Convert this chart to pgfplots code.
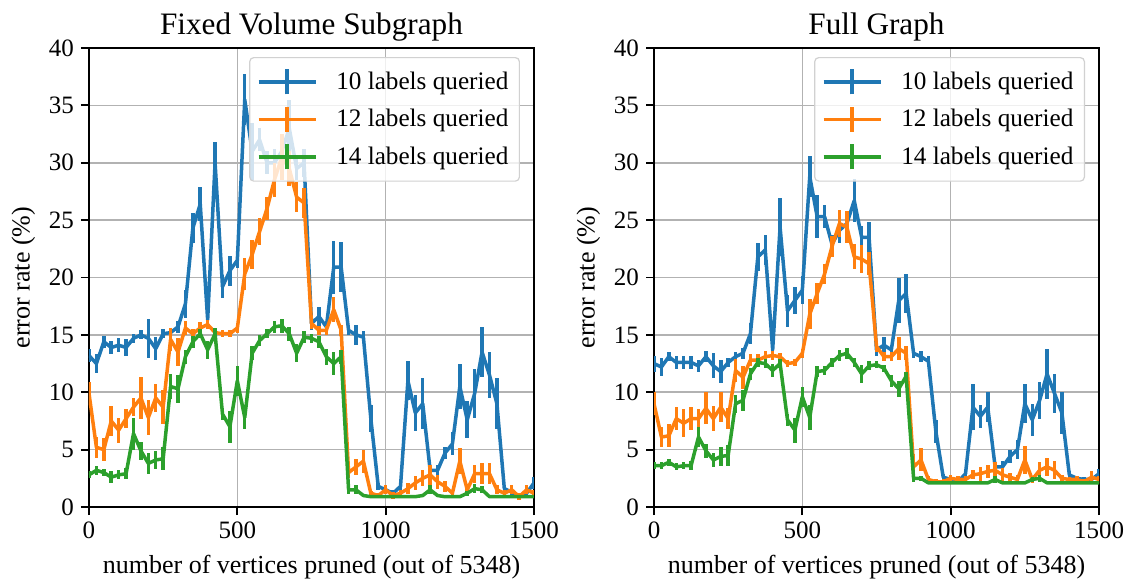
\documentclass[border=0pt]{standalone}
\usepackage{fontspec}
\setmainfont{Liberation Serif}
\usepackage{pgfplots}
\usepackage{pgfplotstable}
\pgfplotsset{compat=1.18}
\definecolor{tabblue}{HTML}{1F77B4}
\definecolor{taborange}{HTML}{FF7F0E}
\definecolor{tabgreen}{HTML}{2CA02C}

\pgfplotstableread{
x y e
0 13.2 0.6
25 12.5 0.8
50 14.4 0.5
75 13.9 0.6
100 14.1 0.6
125 13.9 0.7
150 14.7 0.4
175 15.0 0.4
200 14.7 1.7
225 13.8 1.0
250 15.1 0.4
275 15.2 0.4
300 15.7 0.5
325 17.7 1.2
350 24.3 1.3
375 26.4 1.5
400 16.3 0.5
425 30.0 1.8
450 19.2 1.0
475 20.6 1.3
500 21.5 0.7
525 35.5 2.2
550 31.0 2.5
575 32.0 1.0
600 30.0 1.0
625 30.0 1.2
650 31.0 1.5
675 33.0 2.5
700 29.5 1.0
725 30.0 1.2
750 16.0 0.6
775 16.6 0.8
800 15.7 0.5
825 20.9 2.3
850 20.9 2.2
875 15.4 0.4
900 15.0 0.9
925 14.8 0.5
950 7.7 1.2
975 1.8 0.3
1000 1.5 0.3
1025 1.2 0.3
1050 1.8 0.3
1075 11.0 1.7
1100 8.2 1.6
1125 9.0 2.2
1150 3.2 0.3
1175 3.2 0.5
1200 4.7 0.5
1225 5.5 1.0
1250 10.5 2.0
1275 7.6 1.6
1300 9.9 2.1
1325 13.5 2.2
1350 11.5 2.0
1375 9.0 2.2
1400 1.6 0.3
1425 1.3 0.3
1450 0.9 0.3
1475 1.2 0.3
1500 2.1 0.5
}\LB

\pgfplotstableread{
x y e
0 9.9 1.0
25 5.2 0.9
50 5.0 1.0
75 7.5 1.3
100 6.7 1.1
125 7.7 0.8
150 8.7 0.8
175 9.5 1.8
200 7.8 1.5
225 9.5 1.2
250 8.7 1.5
275 14.6 1.0
300 13.5 1.2
325 15.6 0.6
350 15.1 0.4
375 15.6 0.5
400 15.9 0.4
425 15.2 0.4
450 15.1 0.3
475 15.1 0.3
500 15.6 0.4
525 20.3 1.4
550 22.0 1.3
575 24.0 1.2
600 26.0 1.0
625 28.5 1.5
650 30.5 2.0
675 29.5 1.5
700 27.0 1.3
725 26.5 1.3
750 16.0 0.5
775 15.4 0.4
800 15.4 0.4
825 17.2 1.1
850 15.4 0.5
875 3.0 0.5
900 3.5 0.7
925 4.0 1.0
950 1.2 0.2
975 1.0 0.2
1000 1.5 0.4
1025 1.0 0.3
1050 1.2 0.3
1075 1.6 0.5
1100 2.1 0.6
1125 2.5 0.7
1150 2.8 0.9
1175 2.2 0.6
1200 1.8 0.5
1225 1.2 0.3
1250 4.0 1.1
1275 1.5 0.4
1300 2.9 0.8
1325 2.9 0.9
1350 2.9 0.9
1375 1.5 0.4
1400 1.2 0.3
1425 1.5 0.4
1450 0.9 0.3
1475 1.5 0.4
1500 1.2 0.3
}\LO

\pgfplotstableread{
x y e
0 2.8 0.3
25 3.2 0.4
50 3.0 0.3
75 2.6 0.5
100 2.8 0.4
125 2.9 0.5
150 6.4 1.4
175 4.9 0.8
200 3.8 0.9
225 4.1 0.8
250 4.2 1.0
275 10.5 1.1
300 10.3 1.2
325 13.1 0.6
350 14.4 0.5
375 15.1 0.4
400 13.7 0.8
425 15.1 0.5
450 8.1 0.5
475 7.0 1.4
500 11.0 1.3
525 7.8 1.0
550 13.4 0.6
575 14.5 0.5
600 15.1 0.4
625 15.7 0.5
650 15.8 0.6
675 15.1 0.6
700 13.4 0.8
725 14.8 0.5
750 14.7 0.4
775 14.4 0.5
800 13.1 0.7
825 12.5 1.0
850 13.1 0.6
875 1.5 0.4
900 1.5 0.4
925 1.0 0.1
950 0.9 0.1
975 0.9 0.1
1000 0.9 0.1
1025 0.9 0.1
1050 0.9 0.1
1075 0.9 0.1
1100 0.9 0.1
1125 1.0 0.1
1150 1.5 0.4
1175 1.0 0.1
1200 0.9 0.1
1225 0.9 0.1
1250 0.9 0.1
1275 1.2 0.2
1300 1.6 0.4
1325 1.5 0.3
1350 0.9 0.1
1375 0.9 0.1
1400 0.9 0.1
1425 0.9 0.1
1450 0.9 0.1
1475 0.9 0.1
1500 0.9 0.1
}\LG

\pgfplotstableread{
x y e
0 12.5 0.7
25 12.2 0.8
50 13.1 0.4
75 12.6 0.6
100 12.6 0.6
125 12.6 0.6
150 12.3 0.5
175 13.1 0.5
200 12.3 1.1
225 11.8 1.0
250 12.6 0.4
275 13.1 0.4
300 13.4 0.5
325 15.1 0.9
350 21.8 1.2
375 22.4 1.3
400 13.7 0.5
425 24.4 2.5
450 17.1 1.4
475 18.0 1.2
500 18.9 1.2
525 28.8 1.8
550 25.3 1.9
575 25.3 1.0
600 22.9 0.8
625 24.1 1.1
650 24.7 1.0
675 26.7 1.9
700 23.5 1.0
725 23.5 1.3
750 13.7 0.5
775 14.1 0.7
800 13.7 0.4
825 18.0 2.0
850 18.6 1.7
875 13.4 0.4
900 13.1 0.5
925 12.7 0.5
950 6.6 1.0
975 2.6 0.3
1000 2.4 0.3
1025 2.2 0.2
1050 2.9 0.3
1075 8.7 2.0
1100 7.9 1.0
1125 8.7 1.3
1150 3.5 0.4
1175 3.5 0.5
1200 4.4 0.6
1225 5.0 0.8
1250 9.0 1.7
1275 7.6 1.4
1300 9.3 1.6
1325 11.6 2.2
1350 9.9 1.7
1375 8.2 1.8
1400 2.8 0.3
1425 2.5 0.2
1450 2.4 0.2
1475 2.4 0.2
1500 2.9 0.4
}\RB

\pgfplotstableread{
x y e
0 9.0 1.0
25 6.1 0.9
50 6.2 1.0
75 7.7 1.0
100 7.3 1.2
125 7.7 1.0
150 7.7 0.8
175 8.6 1.4
200 7.7 1.1
225 8.7 1.3
250 7.7 0.9
275 11.9 1.0
300 11.3 1.0
325 12.8 0.5
350 12.8 0.5
375 13.1 0.5
400 13.2 0.4
425 13.1 0.3
450 12.5 0.3
475 12.6 0.3
500 13.4 0.4
525 16.8 1.3
550 18.6 0.9
575 20.3 0.9
600 22.7 0.9
625 24.7 1.2
650 24.4 1.4
675 21.8 1.1
700 21.6 1.2
725 21.2 1.0
750 14.0 0.5
775 13.1 0.4
800 13.1 0.4
825 13.8 1.0
850 13.4 0.6
875 3.5 1.1
900 4.1 1.0
925 2.4 0.3
950 2.2 0.2
975 2.2 0.2
1000 2.5 0.3
1025 2.4 0.3
1050 2.4 0.3
1075 2.8 0.4
1100 2.9 0.6
1125 3.1 0.6
1150 3.2 0.7
1175 2.8 0.6
1200 2.6 0.4
1225 2.4 0.4
1250 4.1 1.2
1275 2.4 0.3
1300 3.2 0.7
1325 3.5 0.8
1350 3.2 0.8
1375 2.5 0.3
1400 2.4 0.2
1425 2.4 0.3
1450 2.2 0.2
1475 2.6 0.5
1500 2.4 0.3
}\RO

\pgfplotstableread{
x y e
0 3.6 0.3
25 3.6 0.3
50 3.9 0.3
75 3.5 0.3
100 3.6 0.3
125 3.6 0.4
150 6.1 0.9
175 4.9 0.6
200 4.1 0.6
225 4.4 0.8
250 4.5 0.9
275 9.0 0.8
300 9.3 0.9
325 11.6 0.5
350 12.6 0.4
375 12.5 0.4
400 11.9 0.6
425 12.5 0.4
450 7.6 0.5
475 6.7 1.1
500 9.6 0.9
525 7.8 1.1
550 11.8 0.5
575 11.9 0.4
600 12.6 0.4
625 13.2 0.5
650 13.4 0.5
675 12.6 0.4
700 11.6 0.8
725 12.3 0.4
750 12.4 0.3
775 12.1 0.3
800 11.0 0.5
825 10.3 0.7
850 11.4 0.4
875 2.5 0.3
900 2.5 0.2
925 2.1 0.1
950 2.1 0.1
975 2.1 0.1
1000 2.1 0.1
1025 2.1 0.1
1050 2.1 0.1
1075 2.1 0.1
1100 2.1 0.1
1125 2.1 0.1
1150 2.4 0.3
1175 2.1 0.1
1200 2.1 0.1
1225 2.1 0.1
1250 2.1 0.1
1275 2.4 0.2
1300 2.5 0.3
1325 2.1 0.1
1350 2.1 0.1
1375 2.1 0.1
1400 2.1 0.1
1425 2.1 0.1
1450 2.1 0.1
1475 2.1 0.1
1500 2.1 0.1
}\RG

\pgfplotsset{
  myaxis/.style={
    scale only axis, width=222.5pt, height=229.5pt,
    xmin=0, xmax=1500, ymin=0, ymax=40,
    xtick={0,500,1000,1500}, ytick={0,5,10,15,20,25,30,35,40},
    xticklabels={0,500,1000,1500},
    yticklabels={0,5,10,15,20,25,30,35,40},
    grid=major, grid style={line width=0.8pt, color=black!30},
    axis line style={line width=0.9pt},
    tick align=outside, tick pos=left, major tick length=4pt,
    tick style={line width=0.9pt, black},
    tick label style={font=\fontsize{12.5}{15}\selectfont},
    label style={font=\fontsize{13}{15}\selectfont},
    xlabel style={yshift=-1.5pt},
    title style={font=\fontsize{15.6}{18}\selectfont, yshift=-6pt},
    xlabel={number of vertices pruned (out of 5348)},
    ylabel={error rate (\%)},
    legend cell align=left,
    legend style={at={(rel axis cs:1,1)}, anchor=north east, xshift=-7pt, yshift=-4.5pt,
      draw=black!18, line width=0.6pt, rounded corners=2pt, fill=white, fill opacity=0.8, text opacity=1,
      font=\fontsize{12.6}{14}\selectfont, row sep=4.5pt, inner xsep=3.5pt, inner ysep=5pt,
      /tikz/every odd column/.append style={column sep=7.5pt}},
    legend image code/.code={
      \draw[##1, line width=1.75pt] (0pt,0pt) -- (28.5pt,0pt);
      \draw[##1, line width=1.75pt] (14.25pt,-6.25pt) -- (14.25pt,6.25pt);
    },
  },
  eb/.style={line width=1.75pt, mark=none, line join=round,
    error bars/y dir=both, error bars/y explicit, error bars/error mark=none,
    error bars/error bar style={line width=1.75pt, solid}},
}

\begin{document}
\begin{tikzpicture}
\begin{axis}[myaxis, title={Fixed Volume Subgraph}]
\addplot[color=tabblue, eb] table[x=x, y=y, y error=e] {\LB};
\addlegendentry{10 labels queried}
\addplot[color=taborange, eb] table[x=x, y=y, y error=e] {\LO};
\addlegendentry{12 labels queried}
\addplot[color=tabgreen, eb] table[x=x, y=y, y error=e] {\LG};
\addlegendentry{14 labels queried}
\end{axis}
\begin{axis}[myaxis, at={(282.5pt,0pt)}, title={Full Graph}]
\addplot[color=tabblue, eb] table[x=x, y=y, y error=e] {\RB};
\addlegendentry{10 labels queried}
\addplot[color=taborange, eb] table[x=x, y=y, y error=e] {\RO};
\addlegendentry{12 labels queried}
\addplot[color=tabgreen, eb] table[x=x, y=y, y error=e] {\RG};
\addlegendentry{14 labels queried}
\end{axis}
\pgfresetboundingbox
\path[use as bounding box] (-44.5pt,-39.5pt) rectangle (521pt,253.5pt);
\end{tikzpicture}
\end{document}
